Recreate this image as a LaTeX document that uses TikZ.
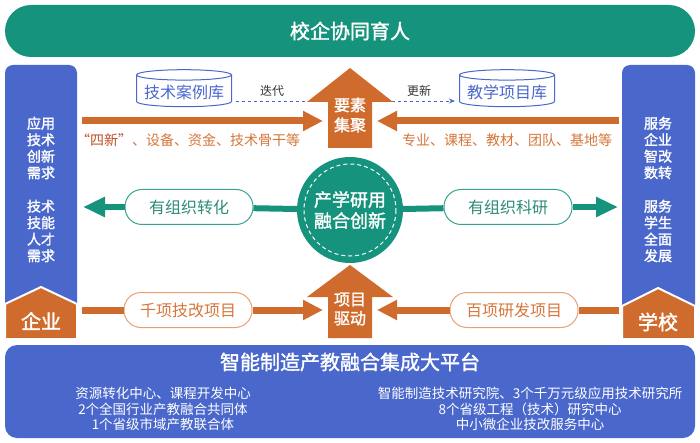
\documentclass[tikz,border=0pt]{standalone}
\usepackage{fontspec}
\setmainfont{Noto Sans CJK SC}
\newfontfamily\heavy{Noto Sans CJK SC}[FakeBold=1.6]
\usetikzlibrary{arrows.meta,shapes.geometric}
\definecolor{zgreen}{RGB}{21,147,124}
\definecolor{zblue}{RGB}{74,104,204}
\definecolor{zorange}{RGB}{207,108,45}
\definecolor{otext}{RGB}{214,118,58}
\definecolor{ored}{RGB}{190,80,40}
\definecolor{gtext}{RGB}{45,140,118}
\definecolor{lorange}{RGB}{232,160,115}
\tikzset{
  wtext/.style={text=white, align=center, font=\heavy\fontsize{14}{16.5}\selectfont},
  pill/.style={draw, fill=white, line width=1pt, rounded corners=17pt,
    minimum width=128pt, minimum height=35pt, font=\fontsize{16}{18}\selectfont},
  gpill/.style={pill, draw=zgreen!85, text=gtext},
  opill/.style={pill, draw=lorange, text=otext},
  store/.style={cylinder, shape border rotate=90, draw=zblue, line width=1pt,
    aspect=0.12, minimum width=95pt, minimum height=37pt, text=zblue,
    font=\fontsize{16}{18}\selectfont},
  garrow/.style={draw=zgreen, line width=6pt, -{Triangle[length=22pt,width=19pt]}},
  oarrow/.style={draw=zorange, line width=7pt, -{Triangle[length=20pt,width=19pt]}},
  dline/.style={draw=zblue, dashed, line width=0.9pt},
  olabel/.style={text=otext, font=\fontsize{14}{16}\selectfont},
  small/.style={text=black!80, font=\fontsize{12}{14}\selectfont},
}
\begin{document}
\begin{tikzpicture}[x=1pt,y=-1pt]
  \fill[white] (0,0) rectangle (700,443);
  \useasboundingbox (0,0) rectangle (700,443);

  \node[fill=zgreen, rounded corners=26pt, minimum width=690pt, minimum height=52pt,
    wtext, font=\heavy\fontsize{20}{22}\selectfont] (xiaoqi) at (350,31) {校企协同育人};

  \fill[zblue, rounded corners=8pt] (5,312) -- (5,65) -- (77,65) -- (77,312) -- cycle;
  \draw[white, line width=2pt, fill=zorange] (5,304) -- (41,287) -- (77,304) -- (77,339) -- (5,339) -- cycle;
  \fill[zblue, rounded corners=8pt] (622,312) -- (622,65) -- (695,65) -- (695,312) -- cycle;
  \draw[white, line width=2pt, fill=zorange] (622,306) -- (658,288) -- (695,306) -- (695,339) -- (622,339) -- cycle;

  \node[wtext] (qneed1) at (41,148) {应用\\技术\\创新\\需求};
  \node[wtext] (qneed2) at (41,231) {技术\\技能\\人才\\需求};
  \node[wtext] (xneed1) at (658,148) {服务\\企业\\智改\\数转};
  \node[wtext] (xneed2) at (658,231) {服务\\学生\\全面\\发展};
  \node[wtext, font=\heavy\fontsize{20}{22}\selectfont] (qiye) at (41,321) {企业};
  \node[wtext, font=\heavy\fontsize{20}{22}\selectfont] (xuexiao) at (658,322) {学校};

  \node[store] (anli) at (184,92) {技术案例库};
  \node[store] (jiaoxue) at (507,92) {教学项目库};
  \coordinate (diedai) at (309,101);
  \coordinate (gengxin) at (392,101);
  \draw[dline] ([shift={(4pt,-9pt)}]anli.east) -- (diedai);
  \draw[dline, -{Stealth[length=6pt,width=5pt]}] (gengxin) -- ([shift={(-4pt,-9pt)}]jiaoxue.west);
  \node[small] (diedaitext) at (272,91) {迭代};
  \node[small] (gengxintext) at (419,91) {更新};

  \fill[zorange] (328,148) -- (328,102) -- (307,102) -- (350,68) -- (393,102) -- (372,102) -- (372,148) -- cycle;
  \node[wtext, font=\heavy\fontsize{16}{20}\selectfont] (yaosu) at (350,115) {要素\\集聚};
  \fill[zorange] (328,338) -- (328,297) -- (307,297) -- (350,265) -- (393,297) -- (372,297) -- (372,338) -- cycle;
  \node[wtext, font=\heavy\fontsize{16}{19}\selectfont] (xiangmu) at (350,309) {项目\\驱动};

  \coordinate (ltop) at (82,121);
  \coordinate (mtopl) at (323,121);
  \coordinate (rtop) at (619,121);
  \coordinate (mtopr) at (377,121);
  \draw[oarrow] (ltop) -- (mtopl);
  \draw[oarrow] (rtop) -- (mtopr);
  \node[olabel] (sixin) at (188,140) {\textcolor{ored}{“四新”}、设备、资金、技术骨干等};
  \node[olabel] (zhuanye) at (507,140) {专业、课程、教材、团队、基地等};

  \node[circle, fill=zgreen, minimum size=106pt] (core) at (350,210) {};
  \draw[white, dashed, line width=1pt, dash pattern=on 4pt off 3pt] (core) circle (46);
  \node[wtext, font=\heavy\fontsize{18}{21}\selectfont] (coretext) at (core) {产学研用\\融合创新};

  \node[gpill] (zhuanhua) at (189,207) {有组织转化};
  \node[gpill] (keyan) at (508,207) {有组织科研};
  \coordinate (gleft) at (83,207);
  \coordinate (gright) at (618,207);
  \draw[zgreen, line width=6pt] (core) -- (zhuanhua);
  \draw[garrow] (zhuanhua) -- (gleft);
  \draw[zgreen, line width=6pt] (core) -- (keyan);
  \draw[garrow] (keyan) -- (gright);

  \node[opill] (jigai) at (188,310) {千项技改项目};
  \node[opill] (yanfa) at (514,310) {百项研发项目};
  \coordinate (lbot) at (82,310);
  \coordinate (mbotl) at (323,310);
  \coordinate (rbot) at (619,310);
  \coordinate (mbotr) at (377,310);
  \draw[zorange, line width=7pt] (lbot) -- (jigai);
  \draw[oarrow] (jigai) -- (mbotl);
  \draw[zorange, line width=7pt] (rbot) -- (yanfa);
  \draw[oarrow] (yanfa) -- (mbotr);

  \node[fill=zblue, rounded corners=12pt, minimum width=690pt, minimum height=93pt] (pingtai) at (350,391.5) {};
  \node[wtext, font=\heavy\fontsize{20}{22}\selectfont] (pttitle) at (350,362) {智能制造产教融合集成大平台};
  \node[text=white, align=center, font=\fontsize{13.5}{15.5}\selectfont] (ptleft) at (163,409)
    {资源转化中心、课程开发中心\\2个全国行业产教融合共同体\\1个省级市域产教联合体};
  \node[text=white, align=center, font=\fontsize{13.5}{15.5}\selectfont] (ptright) at (530,409)
    {智能制造技术研究院、3个千万元级应用技术研究所\\8个省级工程（技术）研究中心\\中小微企业技改服务中心};
\end{tikzpicture}
\end{document}
